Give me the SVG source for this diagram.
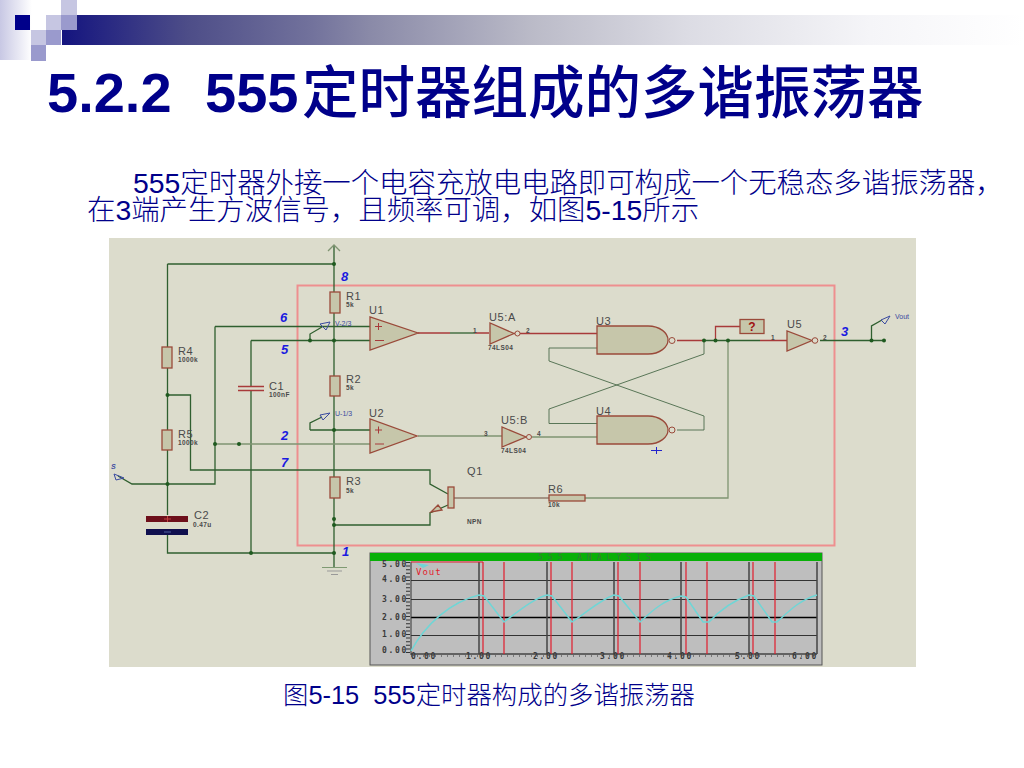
<svg xmlns="http://www.w3.org/2000/svg" width="1024" height="768" viewBox="0 0 1024 768">
<style>
.w{fill:none;stroke:#2f5f2f;stroke-width:1.3}
.x{fill:none;stroke:#4a6a4a;stroke-width:.9}
.g{fill:none;stroke:#7f9472;stroke-width:1.3}
.r{fill:none;stroke:#a83a3a;stroke-width:1.3}
.d{fill:none;stroke:#6a4a3a;stroke-width:1.2}
.b{fill:#c6c6aa;stroke:#9a4a3a;stroke-width:1.3}
.o{fill:#dcdccc;stroke:#9a4a3a}
.n{fill:#1f5a1f}
.t{font-family:"Liberation Sans",sans-serif;fill:#4a4a4a}
.l{font-size:11px;letter-spacing:.6px}
.s{font-size:6.500px;font-weight:bold;letter-spacing:.4px}
.pin{font-family:"Liberation Sans",sans-serif;font-size:13px;font-weight:bold;font-style:italic;fill:#1a1ae0}
.cn{font-family:"Liberation Sans","Noto Sans CJK SC",sans-serif;fill:#00008a}
.ax{font-family:"DejaVu Sans Mono",monospace;font-size:8px;font-weight:bold;fill:#3a3a3a;letter-spacing:1.700px}
.pb{font-family:"Liberation Sans",sans-serif;font-size:7px;fill:#3a4aa0}
</style>
<defs>
<linearGradient id="bar" x1="0" x2="1" y1="0" y2="0"><stop offset="0" stop-color="#14147f"/><stop offset="0.13" stop-color="#4d4d88"/><stop offset="0.26" stop-color="#72729c"/><stop offset="0.32" stop-color="#8a8aa8"/><stop offset="0.49" stop-color="#bbbbc8"/><stop offset="0.65" stop-color="#dcdce4"/><stop offset="0.84" stop-color="#f5f5f8"/><stop offset="1" stop-color="#fff"/></linearGradient>
<linearGradient id="fade" x1="0" x2="1" y1="0" y2="0"><stop offset="0" stop-color="#c8c8e4"/><stop offset="1" stop-color="#fff"/></linearGradient>
</defs>
<rect width="1024" height="768" fill="#fff"/>
<g id="header">
<rect x="0" y="0" width="32" height="60" fill="url(#fade)"/>
<rect x="62" y="15" width="962" height="30" fill="url(#bar)"/>
<rect x="15" y="15" width="15" height="15" fill="#00008a"/>
<rect x="46" y="15" width="15" height="15" fill="#c6c6e2"/>
<rect x="61" y="0" width="16" height="15" fill="#c6c6e2"/>
<rect x="61" y="15" width="16" height="15" fill="#9a9acd"/>
<rect x="31" y="30" width="15" height="15" fill="#c6c6e2"/>
<rect x="46" y="30" width="15" height="15" fill="#9a9acd"/>
<rect x="31" y="45" width="15" height="16" fill="#9a9acd"/>
</g>
<text class="cn" x="47" y="112" font-size="56" font-weight="bold">5.2.2</text>
<text class="cn" x="205" y="112" font-size="56" font-weight="bold">555</text>
<text class="cn" x="302" y="113" font-size="56.500" font-weight="500">定时器组成的多谐振荡器</text>
<text class="cn" x="133" y="193" font-size="28.400" font-weight="300">555定时器外接一个电容充放电电路即可构成一个无稳态多谐振荡器，</text>
<text class="cn" x="87" y="220" font-size="28.400" font-weight="300">在3端产生方波信号，且频率可调，如图5-15所示</text>
<text class="cn" x="283" y="704" font-size="25.400" font-weight="300" xml:space="preserve">图5-15  555定时器构成的多谐振荡器</text>

<rect x="109" y="238" width="807" height="429" fill="#dcdccc"/>
<rect id="frame" x="297.500" y="285.500" width="537" height="260" fill="none" stroke="#ee8f8f" stroke-width="2"/>

<g id="connectors">
<path class="w" d="M334 245V292M334 313V376M334 395V477M334 498V567M167.500 264H334M167.500 264V347M167.500 368V430M167.500 450V515M167.500 535V553H334"/>
<path class="g" d="M328 251L334 245L340 251"/>
<path class="w" d="M167.500 395H190.500V470H430V484L448 494"/>
<path class="w" d="M215 326.500H370M215 326.500V484H132L118 476"/>
<path class="w" d="M251 340.500H370M251 340.500V386M251 391V553"/>
<path class="g" d="M215 444H370"/>
<path class="w" d="M310 340V334L322 327M310 430V423L322 417M310 430H370"/>
<path class="r" d="M418 333H450M475 333H489M514 333.500H597"/>
<path class="w" d="M450 333H475"/>
<path class="g" d="M418 436H502M532 437H597"/>
<path class="x" d="M597 348H549V361L704 416V430H677"/>
<path class="x" d="M704 340.500V354L549 409V423.500H597"/>
<path class="r" d="M677 340.500H704M715.500 340V326.500H740M760 340.500H787"/>
<path class="w" d="M704 340.500H760"/>
<path class="g" d="M728 340.500V498H585" stroke-width="1.800"/>
<path class="d" d="M549 498H454"/>
<path class="w" d="M820 340.500H884M871.500 340V326L882 320"/>
<path class="w" d="M448 505L430 513V525H334"/>
</g>

<g id="R1"><rect class="b" x="330" y="292" width="10" height="21"/><text class="t l" x="346" y="300">R1</text><text class="t s" x="346" y="307">5k</text></g>
<g id="R2"><rect class="b" x="330" y="376" width="10" height="20"/><text class="t l" x="346" y="383">R2</text><text class="t s" x="346" y="390">5k</text></g>
<g id="R3"><rect class="b" x="330" y="477" width="10" height="21"/><text class="t l" x="346" y="485">R3</text><text class="t s" x="346" y="493">5k</text></g>
<g id="R4"><rect class="b" x="162" y="347" width="10" height="21"/><text class="t l" x="178" y="355">R4</text><text class="t s" x="178" y="362">1000k</text></g>
<g id="R5"><rect class="b" x="162" y="430" width="10" height="20"/><text class="t l" x="178" y="438">R5</text><text class="t s" x="178" y="445">1000k</text></g>
<g id="R6"><rect class="b" x="549" y="495" width="36" height="6"/><text class="t l" x="548" y="493">R6</text><text class="t s" x="548" y="507">10k</text></g>
<g id="C1"><path class="r" d="M238 386.500H264M238 390.500H264"/><text class="t l" x="269" y="390">C1</text><text class="t s" x="269" y="397">100nF</text></g>
<g id="C2"><rect x="146" y="516" width="42" height="6" fill="#6d0f1a"/><rect x="146" y="529" width="42" height="6" fill="#10104f"/><path d="M164 519H171M167.500 516V522" stroke="#c04040" fill="none"/><path d="M164 532H171" stroke="#5060a0" fill="none"/><text class="t l" x="194" y="519">C2</text><text class="t s" x="193" y="527">0.47u</text></g>
<g id="U1"><path class="b" d="M370 317V350L418 333Z"/><path d="M375 326.500H382M378.500 323V330M375 340.500H384" stroke="#a83a3a" fill="none"/><text class="t l" x="369" y="314">U1</text></g>
<g id="U2"><path class="b" d="M370 419V453L417 436Z"/><path d="M375 430H382M378.500 426.500V433.500M375 444H384" stroke="#a83a3a" fill="none"/><text class="t l" x="369" y="417">U2</text></g>
<g id="U5A"><path class="b" d="M490 323V344L514 333.500Z"/><circle class="o" cx="517.500" cy="333.500" r="2.500"/><text class="t l" x="489" y="321">U5:A</text><text class="t s" x="488" y="350">74LS04</text><text class="t s" x="473" y="333">1</text><text class="t s" x="526" y="333">2</text></g>
<g id="U5B"><path class="b" d="M502 427V447L526 437Z"/><circle class="o" cx="529" cy="437" r="2.500"/><text class="t l" x="501" y="424">U5:B</text><text class="t s" x="501" y="453">74LS04</text><text class="t s" x="484" y="436">3</text><text class="t s" x="537" y="436">4</text></g>
<g id="U3"><path class="b" d="M597 326H648C660 326 668 333 668 340S660 354 648 354H597Z"/><circle class="o" cx="672" cy="340.500" r="3"/><text class="t l" x="596" y="325">U3</text></g>
<g id="U4"><path class="b" d="M597 416H648C660 416 668 423 668 430S660 444 648 444H597Z"/><circle class="o" cx="672" cy="430" r="3"/><text class="t l" x="596" y="415">U4</text><path d="M651 450.500H662M656.500 447V454" stroke="#2222cc" fill="none"/></g>
<g id="U5"><path class="b" d="M787 331V351L812 340.500Z"/><circle class="o" cx="815" cy="340.500" r="2.800"/><text class="t l" x="787" y="328">U5</text><text class="t s" x="771" y="340">1</text><text class="t s" x="823" y="340">2</text></g>
<g id="probe"><rect x="740" y="319.500" width="24" height="14" fill="#c6c6aa" stroke="#9a4a3a" stroke-width="1.300"/><text x="752" y="331" text-anchor="middle" font-family="Liberation Sans,sans-serif" font-size="12" font-weight="bold" fill="#a01010">?</text></g>
<g id="Q1"><rect class="b" x="448" y="487" width="6" height="21"/><text class="t l" x="467" y="475">Q1</text><text class="t s" x="467" y="524">NPN</text><path class="b" d="M431 512L438 505L442 510Z"/></g>
<g id="nodes">
<circle class="n" cx="334" cy="264" r="2"/><circle class="n" cx="310" cy="340.500" r="2"/><circle class="n" cx="334" cy="340.500" r="2"/><circle class="n" cx="167.500" cy="395" r="2"/><circle class="n" cx="334" cy="430" r="2"/><circle class="n" cx="215" cy="444" r="2"/><circle class="n" cx="239" cy="444" r="2"/><circle class="n" cx="167.500" cy="484" r="2"/><circle class="n" cx="334" cy="519" r="2"/><circle class="n" cx="334" cy="525" r="2"/><circle class="n" cx="251" cy="553" r="2"/><circle class="n" cx="334" cy="553" r="2"/><circle class="n" cx="704" cy="340.500" r="2"/><circle class="n" cx="715.500" cy="340.500" r="2"/><circle class="n" cx="728" cy="340.500" r="2"/><circle class="n" cx="871.500" cy="340.500" r="2"/><circle class="n" cx="884" cy="340.500" r="2"/>
</g>
<g id="ground"><path d="M322 567.500H347" stroke="#7f9a72" fill="none"/><path d="M327 571H342M331 574.500H338" stroke="#999" fill="none"/></g>
<g id="pins">
<text class="pin" x="341" y="281">8</text><text class="pin" x="280" y="322">6</text><text class="pin" x="281" y="354">5</text><text class="pin" x="281" y="440">2</text><text class="pin" x="281" y="467">7</text><text class="pin" x="342" y="556">1</text><text class="pin" x="841" y="336">3</text>
</g>
<g id="probes" fill="none" stroke="#3a4aa0">
<path d="M320 324L330 322L326 330Z"/><path d="M320 415L330 413L323 420Z"/><path d="M881 320L890 316L885 324Z"/><path d="M114 474L124 478L116 480Z"/>
<text class="pb" stroke="none" x="335" y="326">V-2/3</text><text class="pb" stroke="none" x="335" y="416">U-1/3</text><text class="pb" stroke="none" x="895" y="319">Vout</text><text class="pb" stroke="none" x="111" y="469" font-style="italic" font-weight="bold">S</text>
</g>
<g id="graph">
<rect x="370" y="553" width="452" height="112" fill="#bebebe" stroke="#555"/>
<rect x="370" y="553" width="452" height="8" fill="#08b008"/>
<text x="538" y="560" font-family="DejaVu Sans Mono,monospace" font-size="8" fill="#3a7a3a" letter-spacing="5" xml:space="preserve">555 ANALYSIS</text>
<path d="M411 580.500H817M411 599.500H817M411 635.500H817" stroke="#333" fill="none"/>
<path d="M411 617.500H817" stroke="#000" stroke-width="1.500" fill="none"/>
<path d="M411 654H817M479 562V654M547 562V654M614 562V654M681 562V654M749 562V654M817 562V654" stroke="#444" stroke-width="1.500" fill="none"/>
<path d="M408 562V654" stroke="#333" stroke-width="4" stroke-dasharray="1 2.600" fill="none"/>
<path d="M411 654V658M411 656H817" stroke="#333" stroke-width="1" stroke-dasharray="1 5" fill="none"/>
<path d="M411 562V654" stroke="#333" stroke-width="1" fill="none"/>
<path d="M411 562H483M483 562V654M504 562V654M551 562V654M572 562V654M618 562V654M640 562V654M686 562V654M707 562V654M753 562V654M775 562V654" stroke="#e21d2d" stroke-width="1.200" fill="none"/>
<path d="M411 651C425 625 450 602 479 595L484 596L504 622C520 610 535 598 547 595L552 596L572 622C590 610 600 600 614 595L619 596L640 622C655 608 665 600 681 596L686 597L703 622H709C720 610 735 600 749 595L754 596L772 622H777C790 610 800 600 817 595" stroke="#6fd6d6" stroke-width="1.500" fill="none"/>
<path d="M416 563L429 565L423 568Z" fill="#6fd6d6"/>
<text x="416" y="575" font-family="DejaVu Sans Mono,monospace" font-size="9" letter-spacing="1" fill="#e21d2d">Vout</text>
<text class="ax" x="382" y="567">5.00</text><text class="ax" x="382" y="582">4.00</text><text class="ax" x="382" y="602">3.00</text><text class="ax" x="382" y="620">2.00</text><text class="ax" x="382" y="637">1.00</text><text class="ax" x="382" y="653">0.00</text>
<text class="ax" x="411" y="659">0.00</text><text class="ax" x="466" y="659">1.00</text><text class="ax" x="533" y="659">2.00</text><text class="ax" x="600" y="659">3.00</text><text class="ax" x="667" y="659">4.00</text><text class="ax" x="735" y="659">5.00</text><text class="ax" x="792" y="659">6.00</text>
</g>
</svg>
